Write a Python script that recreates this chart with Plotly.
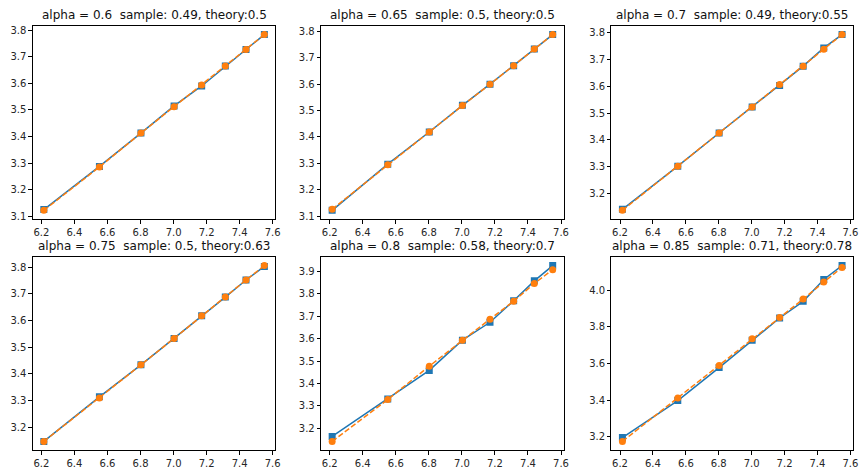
import numpy as np
import plotly.graph_objects as go

# x values (log of sample size)
x_vals = [6.2146, 6.5511, 6.8024, 7.0031, 7.1701, 7.3132, 7.4384, 7.5496]

titles = [
    "alpha = 0.6  sample: 0.49, theory:0.5",
    "alpha = 0.65  sample: 0.5, theory:0.5",
    "alpha = 0.7  sample: 0.49, theory:0.55",
    "alpha = 0.75  sample: 0.5, theory:0.63",
    "alpha = 0.8  sample: 0.58, theory:0.7",
    "alpha = 0.85  sample: 0.71, theory:0.78",
]

sample_06 = [3.126, 3.288, 3.413, 3.515, 3.590, 3.665, 3.727, 3.783]
theory_06 = [3.123, 3.286, 3.413, 3.512, 3.594, 3.665, 3.727, 3.783]
sample_065 = [3.122, 3.297, 3.419, 3.520, 3.600, 3.670, 3.733, 3.788]
theory_065 = [3.126, 3.295, 3.419, 3.519, 3.600, 3.670, 3.733, 3.788]
sample_07 = [3.141, 3.302, 3.426, 3.523, 3.604, 3.676, 3.744, 3.794]
theory_07 = [3.137, 3.302, 3.426, 3.523, 3.607, 3.676, 3.739, 3.794]
sample_075 = [3.147, 3.314, 3.434, 3.533, 3.618, 3.688, 3.752, 3.803]
theory_075 = [3.147, 3.310, 3.434, 3.533, 3.618, 3.688, 3.752, 3.806]
sample_08 = [3.163, 3.330, 3.458, 3.593, 3.673, 3.769, 3.858, 3.926]
theory_08 = [3.141, 3.328, 3.477, 3.593, 3.687, 3.767, 3.846, 3.908]
sample_085 = [3.196, 3.398, 3.578, 3.728, 3.849, 3.940, 4.059, 4.135]
theory_085 = [3.175, 3.412, 3.590, 3.735, 3.852, 3.952, 4.045, 4.125]

samples = [sample_06, sample_065, sample_07, sample_075, sample_08, sample_085]
theories = [theory_06, theory_065, theory_07, theory_075, theory_08, theory_085]
y_dticks = [0.1, 0.1, 0.1, 0.1, 0.1, 0.2]
x_ticks = [6.2, 6.4, 6.6, 6.8, 7.0, 7.2, 7.4, 7.6]

W, H = 865, 474
col_px = [(33, 277), (323, 567), (615, 858)]
row_px = [(25, 220), (258, 453)]

BLUE = "#1f77b4"
ORANGE = "#ff7f0e"
FONT = "DejaVu Sans"

fig = go.Figure()
annotations = []
xmin, xmax = min(x_vals), max(x_vals)
xpad = 0.05 * (xmax - xmin)

for i in range(6):
    r, c = divmod(i, 3)
    n = "" if i == 0 else str(i + 1)
    xa, ya = "x" + n, "y" + n
    fig.add_trace(go.Scatter(
        x=x_vals, y=samples[i], xaxis=xa, yaxis=ya, mode="lines+markers",
        line=dict(color=BLUE, width=1.5),
        marker=dict(symbol="square", size=7, color=BLUE),
        showlegend=False))
    fig.add_trace(go.Scatter(
        x=x_vals, y=theories[i], xaxis=xa, yaxis=ya, mode="lines+markers",
        line=dict(color=ORANGE, width=1.5, dash="5.5px,2.4px"),
        marker=dict(symbol="circle", size=7, color=ORANGE),
        showlegend=False))
    allv = samples[i] + theories[i]
    ymin, ymax = min(allv), max(allv)
    ypad = 0.05 * (ymax - ymin)
    x0, x1 = col_px[c]
    y0, y1 = row_px[r]
    xdom = [x0 / W, x1 / W]
    ydom = [1 - y1 / H, 1 - y0 / H]
    axcommon = dict(showgrid=False, zeroline=False, showline=True, mirror=True,
                    linecolor="black", linewidth=0.8, ticks="outside",
                    ticklen=3.5, tickwidth=0.8, tickcolor="black",
                    tickfont=dict(family=FONT, size=10, color="#262626"))
    fig.layout["xaxis" + n] = dict(
        domain=xdom, anchor=ya, range=[xmin - xpad, xmax + xpad],
        tickvals=x_ticks, ticktext=[f"{v:.1f}" for v in x_ticks], **axcommon)
    fig.layout["yaxis" + n] = dict(
        domain=ydom, anchor=xa, range=[ymin - ypad, ymax + ypad],
        dtick=y_dticks[i], tick0=0, tickformat=".1f", **axcommon)
    annotations.append(dict(
        text=titles[i], xref="paper", yref="paper",
        x=(xdom[0] + xdom[1]) / 2, y=ydom[1], xanchor="center",
        yanchor="bottom", yshift=2, showarrow=False,
        font=dict(family=FONT, size=12, color="#111")))

fig.update_layout(width=W, height=H, margin=dict(l=0, r=0, t=0, b=0),
                  paper_bgcolor="white", plot_bgcolor="white",
                  annotations=annotations, showlegend=False)
fig.write_html("out.html", config={"displayModeBar": False},
               post_script="document.body.style.margin='0';document.body.style.overflow='hidden';")
